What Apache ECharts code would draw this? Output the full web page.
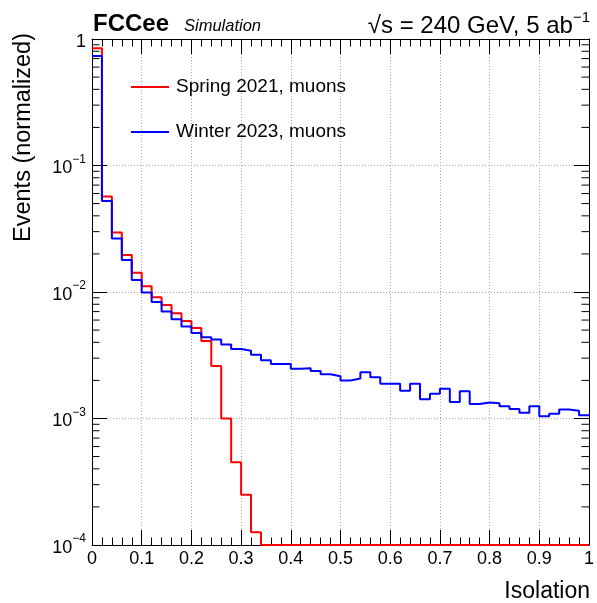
<!DOCTYPE html>
<html>
<head>
<meta charset="utf-8">
<script src="https://cdn.jsdelivr.net/npm/echarts@6/dist/echarts.min.js"></script>
<style>
html,body{margin:0;padding:0;background:#fff;}
#chart{width:597px;height:603px;}
</style>
</head>
<body>
<div id="chart"></div>
<script>
// Bin low edges (bin width 0.02), last entry is the upper edge of the final bin
var binEdges = [0.00,0.02,0.04,0.06,0.08,0.10,0.12,0.14,0.16,0.18,
                0.20,0.22,0.24,0.26,0.28,0.30,0.32,0.34,0.36,0.38,
                0.40,0.42,0.44,0.46,0.48,0.50,0.52,0.54,0.56,0.58,
                0.60,0.62,0.64,0.66,0.68,0.70,0.72,0.74,0.76,0.78,
                0.80,0.82,0.84,0.86,0.88,0.90,0.92,0.94,0.96,0.98,1.00];

var spring2021 = [0.845,0.0569,0.0296,0.0196,0.0142,0.0111,0.0091,0.0079,0.0068,0.0059,
                  0.0052,0.0041,0.0026,0.00100,0.00045,0.00025,0.000126,0,0,0,
                  0,0,0,0,0,0,0,0,0,0,
                  0,0,0,0,0,0,0,0,0,0,
                  0,0,0,0,0,0,0,0,0,0];

var winter2023 = [0.734,0.0524,0.0265,0.0179,0.01245,0.0099,0.00835,0.0070,0.0061,0.00533,
                  0.00475,0.00439,0.00421,0.00384,0.00355,0.00343,0.00319,0.00289,0.0027,0.0027,
                  0.00247,0.0025,0.00237,0.00224,0.00216,0.0020,0.00207,0.00232,0.00212,0.00188,
                  0.00188,0.00166,0.00188,0.00142,0.00157,0.00172,0.00135,0.00164,0.0013,0.00134,
                  0.00132,0.00125,0.00119,0.00111,0.00125,0.00104,0.00109,0.00118,0.00115,0.00106];

var seriesNames = ['Spring 2021, muons', 'Winter 2023, muons'];
var xTickLabels = ['0','0.1','0.2','0.3','0.4','0.5','0.6','0.7','0.8','0.9','1'];
var yMinorTicks = [];
[1e-4,1e-3,1e-2,1e-1].forEach(function(d){ for (var k=2;k<=9;k++) yMinorTicks.push(d*k); });

var yMin = 1e-4, yMax = 1;
var FONT = '"Liberation Sans", Arial, Helvetica, sans-serif';

function histData(vals){
  var out = [];
  for (var i=0;i<vals.length;i++){
    out.push([binEdges[i], vals[i] > yMin ? vals[i] : yMin]);
  }
  out.push([binEdges[vals.length], vals[vals.length-1] > yMin ? vals[vals.length-1] : yMin]);
  return out;
}

var chart = echarts.init(document.getElementById('chart'), null, {renderer:'canvas'});

var gridLine = {show:true, lineStyle:{color:'#a8a8a8', width:1, type:[1,2]}};

function yLabelFmt(v){
  if (v >= 0.999) return '{b|1}';
  var e = Math.round(Math.log10(v));
  return '{b|10}{s|\u2212' + (-e) + '}';
}

var option = {
  animation:false,
  backgroundColor:'#ffffff',
  grid:{left:92, right:7, top:39, bottom:58, containLabel:false},
  legend:{
    data:seriesNames,
    orient:'vertical',
    left:131, top:77,
    padding:0,
    itemWidth:38, itemHeight:2, itemGap:25,
    icon:'rect',
    textStyle:{fontFamily:FONT, fontSize:19, color:'#000', lineHeight:20, padding:[0,0,0,2]}
  },
  xAxis:[
    {type:'value', min:0, max:1, interval:0.1, position:'bottom',
     axisLine:{show:true, onZero:false, lineStyle:{color:'#000', width:1}},
     axisTick:{show:true, inside:true, length:15, lineStyle:{color:'#000'}},
     minorTick:{show:true, splitNumber:5, length:7.5, lineStyle:{color:'#000'}},
     splitLine:gridLine,
     axisLabel:{fontFamily:FONT, fontSize:18, color:'#000', margin:5,
       formatter:function(v){ return xTickLabels[Math.round(v*10)]; }}
    },
    {type:'value', min:0, max:1, interval:0.1, position:'top',
     axisLine:{show:true, onZero:false, lineStyle:{color:'#000', width:1}},
     axisTick:{show:true, inside:true, length:15, lineStyle:{color:'#000'}},
     minorTick:{show:true, splitNumber:5, length:7.5, lineStyle:{color:'#000'}},
     splitLine:{show:false}, axisLabel:{show:false}
    }
  ],
  yAxis:[
    {type:'log', logBase:10, min:yMin, max:yMax, position:'left',
     axisLine:{show:true, onZero:false, lineStyle:{color:'#000', width:1}},
     axisTick:{show:true, inside:true, length:15, lineStyle:{color:'#000'}},
     splitLine:gridLine,
     axisLabel:{fontFamily:FONT, color:'#000', margin:6, formatter:yLabelFmt,
       rich:{
         b:{fontFamily:FONT, fontSize:18, color:'#000', lineHeight:24, verticalAlign:'bottom'},
         s:{fontFamily:FONT, fontSize:12, color:'#000', lineHeight:14, verticalAlign:'top'}
       }}
    },
    {type:'log', logBase:10, min:yMin, max:yMax, position:'right',
     axisLine:{show:true, onZero:false, lineStyle:{color:'#000', width:1}},
     axisTick:{show:true, inside:true, length:15, lineStyle:{color:'#000'}},
     splitLine:{show:false}, axisLabel:{show:false}
    }
  ],
  series:[
    {name:seriesNames[0], type:'line', step:'end', xAxisIndex:0, yAxisIndex:0,
     data:histData(spring2021), symbol:'none', clip:false, z:3,
     lineStyle:{color:'#ff0000', width:2}, itemStyle:{color:'#ff0000'}},
    {name:seriesNames[1], type:'line', step:'end', xAxisIndex:0, yAxisIndex:0,
     data:histData(winter2023), symbol:'none', clip:false, z:4,
     lineStyle:{color:'#0000ff', width:2}, itemStyle:{color:'#0000ff'}},
    {name:'yMinorTicks', type:'custom', xAxisIndex:0, yAxisIndex:0, silent:true, z:5,
     data:yMinorTicks.map(function(v){ return [0, v]; }),
     renderItem:function(params, api){
       var v = api.value(1);
       var pL = api.coord([0, v]);
       var pR = api.coord([1, v]);
       return {type:'group', children:[
         {type:'line', shape:{x1:pL[0], y1:pL[1], x2:pL[0]+7.5, y2:pL[1]}, style:{stroke:'#000', lineWidth:1}},
         {type:'line', shape:{x1:pR[0], y1:pR[1], x2:pR[0]-7.5, y2:pR[1]}, style:{stroke:'#000', lineWidth:1}}
       ]};
     }
    }
  ],
  graphic:[
    {type:'text', x:93, y:24.5, style:{text:'FCCee', font:'bold 24px ' + FONT, fill:'#000', textVerticalAlign:'middle'}},
    {type:'text', x:184, y:26, style:{text:'Simulation', font:'italic 16.5px ' + FONT, fill:'#000', textVerticalAlign:'middle'}},
    {type:'text', x:590, y:24, style:{
      text:'{m|\u221As = 240 GeV, 5 ab}{s|\u22121}', textAlign:'right', textVerticalAlign:'middle',
      rich:{
        m:{fontFamily:FONT, fontSize:24, fill:'#000', lineHeight:28, verticalAlign:'bottom'},
        s:{fontFamily:FONT, fontSize:15, fill:'#000', lineHeight:16, verticalAlign:'top'}
      }}},
    {type:'text', x:24, y:33, rotation:Math.PI/2, style:{text:'Events (normalized)', font:'23.5px ' + FONT, fill:'#000', textAlign:'right', textVerticalAlign:'middle'}},
    {type:'text', x:590, y:592, style:{text:'Isolation', font:'23px ' + FONT, fill:'#000', textAlign:'right', textVerticalAlign:'middle'}}
  ]
};
chart.setOption(option);
</script>
</body>
</html>
